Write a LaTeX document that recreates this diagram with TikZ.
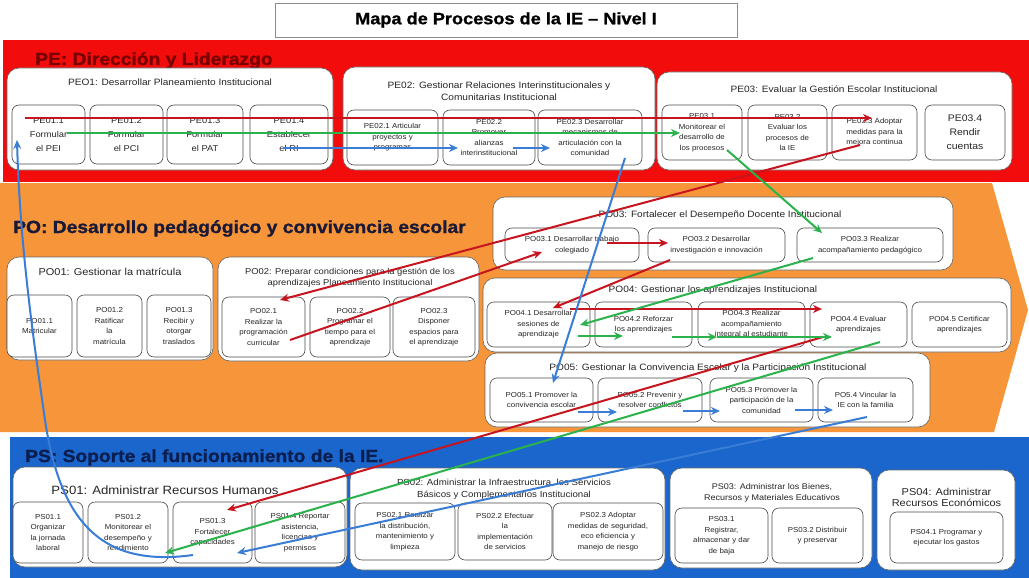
\documentclass[tikz,border=0pt]{standalone}
\usepackage{fontspec}
\setmainfont{Liberation Sans}[FakeStretch=1.1]
\usetikzlibrary{arrows.meta}
\definecolor{bandaRoja}{HTML}{F20C0C}
\definecolor{bandaNaranja}{HTML}{F6953A}
\definecolor{bandaAzul}{HTML}{1A66CC}
\definecolor{textoPE}{HTML}{7A0000}
\definecolor{textoPO}{HTML}{1A1A36}
\definecolor{textoPS}{HTML}{0B1E50}
\definecolor{flechaR}{HTML}{C8141E}
\definecolor{flechaV}{HTML}{2BB24C}
\definecolor{flechaA}{HTML}{3A7DD6}

\tikzset{
  grupo/.style={draw=black!60, line width=0.6pt, rounded corners=12pt, fill=white},
  subbox/.style={draw=black!70, line width=0.6pt, rounded corners=7pt, fill=white,
    align=center, inner sep=1pt, text=black!85, font=\fontsize{7.2}{10.5}\selectfont},
  subgrande/.style={subbox, font=\fontsize{8.5}{14}\selectfont},
  gtitulo/.style={align=center, text=black!85, font=\fontsize{9.2}{12}\selectfont},
  btitulo/.style={anchor=base west, inner sep=0pt,
    font=\fontsize{17.5}{20}\selectfont\bfseries\addfontfeatures{FakeBold=1.2}},
  conector/.style={line width=2pt, -{Stealth[length=9pt, width=8pt]}}
}

\begin{document}
\begin{tikzpicture}[x=1pt, y=-1pt]
  \fill[white] (0,0) rectangle (1029,578);
  \useasboundingbox (0,0) rectangle (1029,578);

  % titulo
  \node[draw=black!45, line width=0.8pt, minimum width=462pt, minimum height=34pt,
    font=\fontsize{16.5}{18}\selectfont\bfseries\addfontfeatures{FakeBold=1}] (titulo) at (506,20)
    {Mapa de Procesos de la IE -- Nivel I};

  % bandas
  \fill[bandaRoja] (3,40) rectangle (1029,182);
  \fill[bandaNaranja] (0,183) -- (992,183) -- (1028,310) -- (994,432) -- (0,432) -- cycle;
  \fill[bandaAzul] (10,437) rectangle (1029,578);

  \node[btitulo, text=textoPE] (pe) at (35,65) {PE: Dirección y Liderazgo};
  \node[btitulo, text=textoPO] (po) at (13,233) {PO: Desarrollo pedagógico y convivencia escolar};
  \node[btitulo, text=textoPS] (ps) at (25,462) {PS: Soporte al funcionamiento de la IE.};

  % PE: procesos estrategicos
  \node[grupo, minimum width=326pt, minimum height=102pt] (pe01) at (170,119) {};
  \node[gtitulo] (pe01t) at (170,82) {PEO1: Desarrollar Planeamiento Institucional};
  \node[subgrande, minimum width=73pt, minimum height=59pt] (pe11) at (48.5,134.5) {PE01.1\\Formular\\el PEI};
  \node[subgrande, minimum width=73pt, minimum height=59pt] (pe12) at (126.5,134.5) {PE01.2\\Formular\\el PCI};
  \node[subgrande, minimum width=76pt, minimum height=59pt] (pe13) at (205,134.5) {PE01.3\\Formular\\el PAT};
  \node[subgrande, minimum width=78pt, minimum height=59pt] (pe14) at (289,134.5) {PE01.4\\Establecer\\el RI};

  \node[grupo, minimum width=312pt, minimum height=103pt] (pe02) at (499,118.5) {};
  \node[gtitulo] (pe02t) at (499,91) {PE02: Gestionar Relaciones Interinstitucionales y\\Comunitarias Institucional};
  \node[subbox, minimum width=91pt, minimum height=55pt] (pe21) at (392.5,137.5) {PE02.1 Articular\\proyectos y\\programas};
  \node[subbox, minimum width=92pt, minimum height=55pt] (pe22) at (489,137.5) {PE02.2\\Promover\\alianzas\\interinstitucional};
  \node[subbox, minimum width=104pt, minimum height=55pt] (pe23) at (590,137.5) {PE02.3 Desarrollar\\mecanismos de\\articulación con la\\comunidad};

  \node[grupo, minimum width=355pt, minimum height=98pt] (pe03) at (834.5,121) {};
  \node[gtitulo] (pe03t) at (834,89) {PE03: Evaluar la Gestión Escolar Institucional};
  \node[subbox, minimum width=80pt, minimum height=55pt] (pe31) at (702,132.5) {PE03.1\\Monitorear el\\desarrollo de\\los procesos};
  \node[subbox, minimum width=79pt, minimum height=55pt] (pe32) at (787.5,132.5) {PE03.2\\Evaluar los\\procesos de\\la IE};
  \node[subbox, minimum width=85pt, minimum height=55pt] (pe33) at (874.5,132.5) {PE03.3 Adoptar\\medidas para la\\mejora continua};
  \node[subgrande, font=\fontsize{9.5}{14}\selectfont, minimum width=80pt, minimum height=55pt] (pe34) at (965,132.5) {PE03.4\\Rendir\\cuentas};

  % PO: procesos operativos
  \node[grupo, minimum width=460pt, minimum height=73pt] (po03) at (723,233.5) {};
  \node[gtitulo] (po03t) at (720,215) {PO03: Fortalecer el Desempeño Docente Institucional};
  \node[subbox, minimum width=134pt, minimum height=34pt] (po31) at (572,245) {PO03.1 Desarrollar trabajo\\colegiado};
  \node[subbox, minimum width=137pt, minimum height=34pt] (po32) at (716.5,245) {PO03.2 Desarrollar\\investigación e innovación};
  \node[subbox, minimum width=146pt, minimum height=34pt] (po33) at (870,245) {PO03.3 Realizar\\acompañamiento pedagógico};

  \node[grupo, minimum width=206pt, minimum height=103pt] (po01) at (110,308.5) {};
  \node[gtitulo, font=\fontsize{10}{12}\selectfont] (po01t) at (110,272) {PO01: Gestionar la matrícula};
  \node[subbox, minimum width=65pt, minimum height=62pt] (po11) at (39.5,326) {PO01.1\\Matricular};
  \node[subbox, minimum width=65pt, minimum height=62pt] (po12) at (109.5,326) {PO01.2\\Ratificar\\la\\matrícula};
  \node[subbox, minimum width=64pt, minimum height=62pt] (po13) at (179,326) {PO01.3\\Recibir y\\otorgar\\traslados};

  \node[grupo, minimum width=261pt, minimum height=104pt] (po02) at (348.5,309) {};
  \node[gtitulo, font=\fontsize{8.5}{11}\selectfont] (po02t) at (350,278) {PO02: Preparar condiciones para la gestión de los\\aprendizajes Planeamiento Institucional};
  \node[subbox, minimum width=83pt, minimum height=60pt] (po21) at (263.5,327) {PO02.1\\Realizar la\\programación\\curricular};
  \node[subbox, minimum width=80pt, minimum height=60pt] (po22) at (350,327) {PO02.2\\Programar el\\tiempo para el\\aprendizaje};
  \node[subbox, minimum width=82pt, minimum height=60pt] (po23) at (434,327) {PO02.3\\Disponer\\espacios para\\el aprendizaje};

  \node[grupo, minimum width=528pt, minimum height=74pt] (po04) at (747,315) {};
  \node[gtitulo] (po04t) at (713,290) {PO04: Gestionar los aprendizajes Institucional};
  \node[subbox, minimum width=103pt, minimum height=45pt] (po41) at (538.5,324.5) {PO04.1 Desarrollar\\sesiones de\\aprendizaje};
  \node[subbox, minimum width=97pt, minimum height=45pt] (po42) at (643.5,324.5) {PO04.2 Reforzar\\los aprendizajes};
  \node[subbox, minimum width=107pt, minimum height=45pt] (po43) at (751.5,324.5) {PO04.3 Realizar\\acompañamiento\\integral al estudiante};
  \node[subbox, minimum width=97pt, minimum height=45pt] (po44) at (858.5,324.5) {PO04.4 Evaluar\\aprendizajes};
  \node[subbox, minimum width=95pt, minimum height=45pt] (po45) at (959.5,324.5) {PO04.5 Certificar\\aprendizajes};

  \node[grupo, minimum width=445pt, minimum height=74pt] (po05) at (707.5,390) {};
  \node[gtitulo] (po05t) at (708,368) {PO05: Gestionar la Convivencia Escolar y la Participación Institucional};
  \node[subbox, minimum width=103pt, minimum height=44pt] (po51) at (541.5,400) {PO05.1 Promover la\\convivencia escolar};
  \node[subbox, minimum width=104pt, minimum height=44pt] (po52) at (650,400) {PO05.2 Prevenir y\\resolver conflictos};
  \node[subbox, minimum width=103pt, minimum height=44pt] (po53) at (761.5,400) {PO05.3 Promover la\\participación de la\\comunidad};
  \node[subbox, minimum width=95pt, minimum height=44pt] (po54) at (865.5,400) {PO5.4 Vincular la\\IE con la familia};

  % PS: procesos de soporte
  \node[grupo, minimum width=334pt, minimum height=100pt] (ps01) at (180,517) {};
  \node[gtitulo, font=\fontsize{12}{14}\selectfont] (ps01t) at (165,490) {PS01: Administrar Recursos Humanos};
  \node[subbox, minimum width=70pt, minimum height=61pt] (ps11) at (48,532.5) {PS01.1\\Organizar\\la jornada\\laboral};
  \node[subbox, minimum width=80pt, minimum height=61pt] (ps12) at (128,532.5) {PS01.2\\Monitorear el\\desempeño y\\rendimiento};
  \node[subbox, minimum width=79pt, minimum height=61pt] (ps13) at (212.5,532.5) {PS01.3\\Fortalecer\\capacidades};
  \node[subbox, minimum width=90pt, minimum height=61pt] (ps14) at (300,532.5) {PS01.4 Reportar\\asistencia,\\licencias y\\permisos};

  \node[grupo, minimum width=315pt, minimum height=102pt] (ps02) at (507.5,519) {};
  \node[gtitulo, font=\fontsize{8.8}{11.5}\selectfont] (ps02t) at (504,489) {PS02: Administrar la Infraestructura, los Servicios\\Básicos y Complementarios Institucional};
  \node[subbox, minimum width=100pt, minimum height=57pt] (ps21) at (405,531.5) {PS02.1 Realizar\\la distribución,\\mantenimiento y\\limpieza};
  \node[subbox, minimum width=94pt, minimum height=57pt] (ps22) at (505,531.5) {PS02.2 Efectuar\\la\\implementación\\de servicios};
  \node[subbox, minimum width=110pt, minimum height=57pt] (ps23) at (608,531.5) {PS02.3 Adoptar\\medidas de seguridad,\\eco eficiencia y\\manejo de riesgo};

  \node[grupo, minimum width=202pt, minimum height=100pt] (ps03) at (771,518) {};
  \node[gtitulo, font=\fontsize{8.2}{10.5}\selectfont] (ps03t) at (772,493) {PS03: Administrar los Bienes,\\Recursos y Materiales Educativos};
  \node[subbox, minimum width=93pt, minimum height=55pt] (ps31) at (721.5,535.5) {PS03.1\\Registrar,\\almacenar y dar\\de baja};
  \node[subbox, minimum width=91pt, minimum height=55pt] (ps32) at (817.5,535.5) {PS03.2 Distribuir\\y preservar};

  \node[grupo, minimum width=138pt, minimum height=100pt] (ps04) at (946,520) {};
  \node[gtitulo, font=\fontsize{10}{11.5}\selectfont] (ps04t) at (946.5,497.5) {PS04: Administrar\\Recursos Económicos};
  \node[subbox, minimum width=113pt, minimum height=51pt] (ps41) at (946.5,537.5) {PS04.1 Programar y\\ejecutar los gastos};

  % extremos de los conectores
  \coordinate (r1a) at (25,118);  \coordinate (r1b) at (872,118);
  \coordinate (r2a) at (860,145); \coordinate (r2b) at (280,300);
  \coordinate (r3a) at (290,340); \coordinate (r3b) at (542,252);
  \coordinate (r4a) at (607,243); \coordinate (r4b) at (668,243);
  \coordinate (r5a) at (670,260); \coordinate (r5b) at (553,308);
  \coordinate (r6a) at (570,309); \coordinate (r6b) at (822,309);
  \coordinate (r7a) at (823,337); \coordinate (r7b) at (227,510);

  \coordinate (v1a) at (67,133);  \coordinate (v1b) at (680,133);
  \coordinate (v2a) at (727,150); \coordinate (v2b) at (822,233);
  \coordinate (v3a) at (813,258); \coordinate (v3b) at (580,325);
  \coordinate (v4a) at (578,336); \coordinate (v4b) at (623,336);
  \coordinate (v5a) at (672,337); \coordinate (v5b) at (717,337);
  \coordinate (v6b) at (832,337);
  \coordinate (v7a) at (880,342); \coordinate (v7b) at (165,553);

  \coordinate (a1a) at (283,148); \coordinate (a1b) at (458,148);
  \coordinate (a2a) at (513,148); \coordinate (a2b) at (550,148);
  \coordinate (a3a) at (625,158); \coordinate (a3b) at (553,383);
  \coordinate (a4a) at (578,412); \coordinate (a4b) at (617,412);
  \coordinate (a5a) at (683,411); \coordinate (a5b) at (720,411);
  \coordinate (a6a) at (795,410); \coordinate (a6b) at (833,410);
  \coordinate (a7a) at (867,417); \coordinate (a7b) at (237,553);
  \coordinate (a8a) at (193,555); \coordinate (a8m) at (45,420); \coordinate (a8b) at (17,140);

  % flujo rojo
  \draw[conector, flechaR] (r1a) -- (r1b);
  \draw[conector, flechaR] (r2a) -- (r2b);
  \draw[conector, flechaR] (r3a) -- (r3b);
  \draw[conector, flechaR] (r4a) -- (r4b);
  \draw[conector, flechaR] (r5a) -- (r5b);
  \draw[conector, flechaR] (r6a) -- (r6b);
  \draw[conector, flechaR] (r7a) -- (r7b);

  % flujo verde
  \draw[conector, flechaV] (v1a) -- (v1b);
  \draw[conector, flechaV] (v2a) -- (v2b);
  \draw[conector, flechaV] (v3a) -- (v3b);
  \draw[conector, flechaV] (v4a) -- (v4b);
  \draw[conector, flechaV] (v5a) -- (v5b);
  \draw[conector, flechaV] (v5b) -- (v6b);
  \draw[conector, flechaV] (v7a) -- (v7b);

  % flujo azul
  \draw[conector, flechaA] (a1a) -- (a1b);
  \draw[conector, flechaA] (a2a) -- (a2b);
  \draw[conector, flechaA] (a3a) -- (a3b);
  \draw[conector, flechaA] (a4a) -- (a4b);
  \draw[conector, flechaA] (a5a) -- (a5b);
  \draw[conector, flechaA] (a6a) -- (a6b);
  \draw[conector, flechaA] (a7a) -- (a7b);
  \draw[conector, flechaA] (a8a) .. controls (100,568) and (60,520) .. (a8m)
    .. controls (35,350) and (20,250) .. (a8b);
\end{tikzpicture}
\end{document}
